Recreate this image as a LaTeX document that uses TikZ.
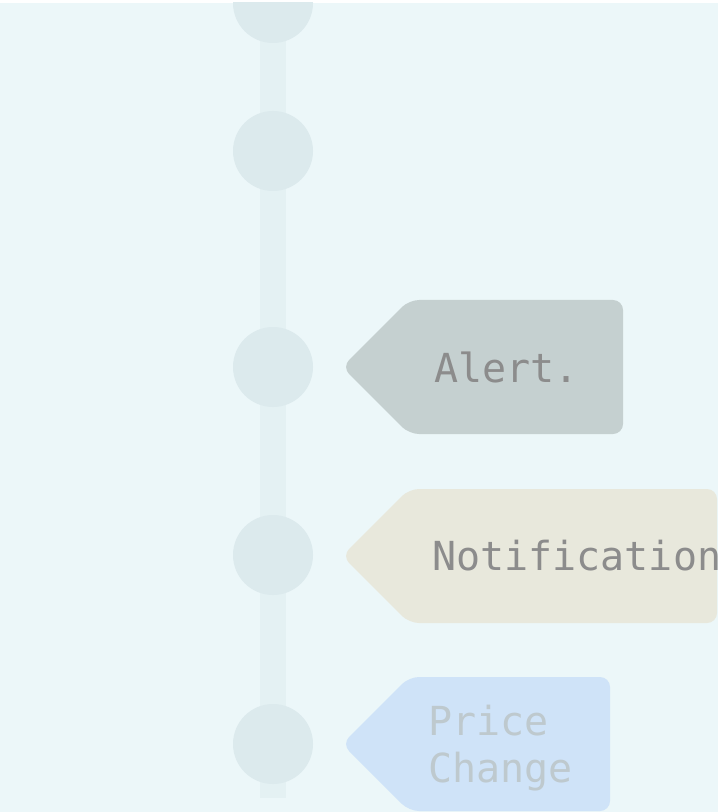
\documentclass[tikz,border=0pt]{standalone}
\usepackage{fontspec}
\newfontfamily\tagfont{DejaVu Sans Mono}
\definecolor{bgcyan}{RGB}{236,247,249}
\definecolor{railcol}{RGB}{228,241,243}
\definecolor{dotcol}{RGB}{220,234,237}
\definecolor{alertfill}{RGB}{197,208,208}
\definecolor{notefill}{RGB}{232,232,220}
\definecolor{pricefill}{RGB}{207,227,248}
\definecolor{darktext}{RGB}{140,140,140}
\definecolor{palettext}{RGB}{190,201,206}
\tikzset{
  dot/.style={circle,fill=dotcol,minimum size=60pt,inner sep=0pt},
  tagtext/.style={anchor=base west,inner sep=0pt,font=\tagfont\fontsize{30}{35}\selectfont},
  tagshape/.style={rounded corners=7.5pt}
}
\begin{document}
\begin{tikzpicture}[x=0.75pt,y=-0.75pt]
\useasboundingbox (0,0) rectangle (719,812);
\clip (0,3) rectangle (718,812);
\fill[bgcyan] (0,3) rectangle (718,812);
% rail
\fill[railcol] (260,0) rectangle (286,798);
% dots on the rail
\foreach\y/\n in {3/d0,151/d1,367/d2,555/d3,744/d4} {
  \node[dot] (\n) at (273,\y) {};
}
% tags, left point then right edge
\foreach\t/\r/\c in {300/623/alertfill,489/717/notefill,677/610/pricefill} {
  \fill[\c,tagshape] (342,\t+67) -- (409,\t) -- (\r,\t) -- (\r,\t+134) -- (409,\t+134) -- cycle;
}
\node[tagtext,text=darktext] (alert) at (434,382) {Alert.};
\node[tagtext,text=darktext] (notif) at (432,570) {Notification};
\node[tagtext,text=palettext] (price) at (428,735) {Price};
\node[tagtext,text=palettext] (change) at (428,782) {Change};
\end{tikzpicture}
\end{document}
